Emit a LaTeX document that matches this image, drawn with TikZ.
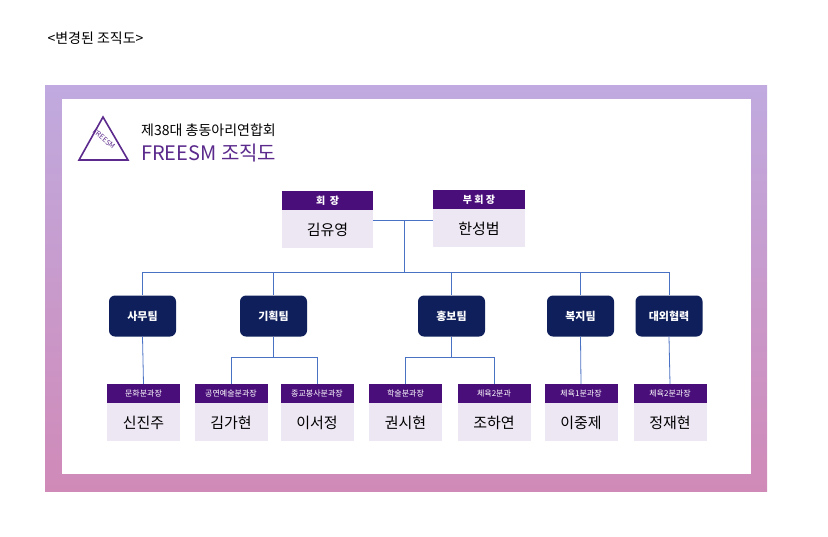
\documentclass[tikz,border=0pt]{standalone}
\usepackage{fontspec}
\setmainfont{Noto Sans CJK KR}
\definecolor{hdr}{HTML}{4A0E7A}
\definecolor{bodyc}{HTML}{EDE6F3}
\definecolor{team}{HTML}{0E1F5C}
\definecolor{ln}{HTML}{4A72C4}
\definecolor{gtop}{HTML}{C0AADF}
\definecolor{gbot}{HTML}{D08AB8}
\definecolor{titlec}{HTML}{5B2A8C}
\begin{document}
\begin{tikzpicture}[x=1pt,y=-1pt,
  hbox/.style={fill=hdr,text=white,minimum width=#1,minimum height=19,inner sep=0,font=\fontsize{8}{9}\selectfont},
  bbox/.style={fill=bodyc,minimum width=#1,minimum height=38,inner sep=0,font=\fontsize{15}{16}\selectfont},
  tbox/.style={fill=team,text=white,rounded corners=6,minimum width=67,minimum height=41,inner sep=0,font=\bfseries\fontsize{11}{12}\selectfont},
  cn/.style={draw=ln,line width=0.8}]
\useasboundingbox (0,0) rectangle (828,536);
\node[anchor=west,font=\fontsize{14}{15}\selectfont] (cap) at (44,38) {<변경된 조직도>};
\shade[top color=gtop,bottom color=gbot] (45,85) rectangle (767,491);
\fill[white] (62,99) rectangle (751,474);
% logo
\draw[titlec,line width=1.6] (79,160) -- (103,117) -- (128,160) -- cycle;
\node[titlec,rotate=-40,font=\fontsize{7}{7}\selectfont,inner sep=0] (lg) at (104,139) {FREESM};
\node[anchor=west,font=\fontsize{14}{15}\selectfont,inner sep=0] (t1) at (141,130) {제38대 총동아리연합회};
\node[anchor=west,text=titlec,font=\fontsize{20}{21}\selectfont,inner sep=0] (t2) at (141,153) {FREESM 조직도};
% top
\node[hbox=91,font=\bfseries\fontsize{10}{11}\selectfont] (ph) at (327.5,200.5) {회\ \ 장};
\node[bbox=91,anchor=north] (pb) at (ph.south) {김유영};
\node[hbox=92,font=\bfseries\fontsize{10}{11}\selectfont] (vh) at (479,199.5) {부 회 장};
\node[bbox=92,anchor=north] (vb) at (vh.south) {한성범};
\coordinate (j) at (404,220);
\draw[cn] (pb.east|-j) -- (vb.west|-j);
\coordinate (bus) at (404,272);
\draw[cn] (j) -- (bus);
% teams
\node[tbox] (t1b) at (142.5,316) {사무팀};
\node[tbox] (t2b) at (273.5,316) {기획팀};
\node[tbox] (t3b) at (451.5,316) {홍보팀};
\node[tbox] (t4b) at (580.5,316) {복지팀};
\node[tbox] (t5b) at (669,316) {대외협력};
\draw[cn] (t1b.north|-bus) -- (t5b.north|-bus);
\foreach \t in {t1b,t2b,t3b,t4b,t5b}{\draw[cn] (\t.north|-bus) -- (\t.north);}
% bottom
\foreach \n/\x/\h/\b in {a/143.5/문화분과장/신진주, b/231/공연예술분과장/김가현, c/317/종교봉사분과장/이서정, d/405.5/학술분과장/권시현, e/494/체육2분과/조하연, f/581/체육1분과장/이중제, g/670/체육2분과장/정재현}{
  \node[hbox=73] (h\n) at (\x,393.5) {\h};
  \node[bbox=73,anchor=north] (b\n) at (h\n.south) {\b};
}
\draw[cn] (t1b.south) -- (ha.north);
\coordinate (k2) at (273.5,357);
\draw[cn] (t2b.south) -- (k2);
\draw[cn] (hb.north) -- (hb.north|-k2) -- (hc.north|-k2) -- (hc.north);
\coordinate (k3) at (451.5,357);
\draw[cn] (t3b.south) -- (k3);
\draw[cn] (hd.north) -- (hd.north|-k3) -- (he.north|-k3) -- (he.north);
\draw[cn] (t4b.south) -- (hf.north);
\draw[cn] (t5b.south) -- (hg.north);
\end{tikzpicture}
\end{document}
